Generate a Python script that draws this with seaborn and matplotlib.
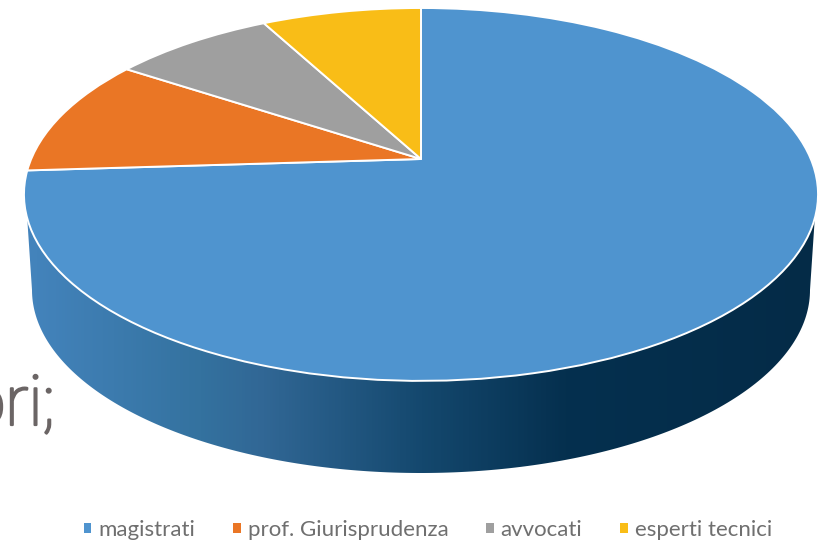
import numpy as np
import seaborn as sns
from matplotlib import pyplot as plt
from matplotlib import patches as mpatches
from matplotlib import patheffects as pe
from matplotlib import transforms as mtransforms
from matplotlib.colors import LinearSegmentedColormap

# data
categories = ["magistrati", "prof. Giurisprudenza", "avvocati", "esperti tecnici"]
shares = [74.0, 10.3, 7.9, 7.8]
colors = ["#4f94cf", "#ea7625", "#9f9f9f", "#f9bd17"]

# shading of the rim, left to right
rim_stops = [(0.0, "#4484bd"), (0.22, "#34729f"), (0.3, "#316795"), (0.5, "#14486e"),
             (0.68, "#05304f"), (1.0, "#042b47")]

sns.set_theme(style="white")
plt.rcParams["font.family"] = ["Lato", "DejaVu Sans"]

# projected circle: the pie apex is not the ellipse centre, the disc is tilted
APEX_X, APEX_Y = 421.0, 159.0
KX, KY, PERSP = 389.8, 179.7, 0.19


class TiltedDisc(mtransforms.Transform):
    input_dims = 2
    output_dims = 2
    is_separable = False
    has_inverse = False

    def transform_non_affine(self, values):
        values = np.asarray(values)
        d = 1 + PERSP * values[:, 1]
        return np.column_stack((APEX_X + KX * values[:, 0] / d,
                                APEX_Y - KY * values[:, 1] / d))


fig = plt.figure(figsize=(8.3, 5.43), dpi=100)
ax = fig.add_axes([0, 0, 1, 1])

wedges, _ = ax.pie(shares, colors=colors, startangle=90, counterclock=False,
                   wedgeprops={"edgecolor": "white", "linewidth": 1.4})
ax.set_aspect("auto")

for wedge in wedges:
    wedge.set_transform(TiltedDisc() + ax.transData)
    wedge.set_clip_on(False)
    wedge.set_zorder(3)

# side of the cake: lower half of the top rim joined to the lower ellipse
t = np.linspace(0, np.pi, 200)
top_x = 421 + 397 * np.cos(t)
top_y = 194 + 186.5 * np.sin(t)
low_x = 421 + 389 * np.cos(t)
low_y = 290 + 183 * np.sin(t)
keep = top_y > 215
rim = np.vstack((np.column_stack((top_x[keep], top_y[keep])),
                 np.column_stack((low_x[::-1], low_y[::-1]))))
rim_patch = mpatches.Polygon(rim, closed=True, transform=ax.transData)

rim_cmap = LinearSegmentedColormap.from_list("rim", rim_stops)
img = ax.imshow(np.linspace(0, 1, 800).reshape(1, -1), cmap=rim_cmap, aspect="auto",
                extent=(24, 819, 480, 200), zorder=2)
img.set_clip_path(rim_patch)

# leftover of the slide text behind the chart
ax.text(55, 425, "ori;", fontsize=50, color="#6b6565", family="Roboto", fontweight="light",
        ha="right", va="baseline", zorder=1,
        path_effects=[pe.withStroke(linewidth=1.6, foreground="#6b6565")])

handles = [mpatches.Patch(facecolor=c, edgecolor="none") for c in colors]
ax.legend(handles, categories, ncol=4, loc="center", bbox_to_anchor=(428, 530),
          bbox_transform=ax.transData, frameon=False, fontsize=16, labelcolor="#6f6f6f",
          handlelength=0.33, handleheight=0.33, handletextpad=0.32, columnspacing=1.7)

ax.set_xlim(0, 830)
ax.set_ylim(543, 0)
ax.axis("off")

fig.savefig("out.png", dpi=100)
